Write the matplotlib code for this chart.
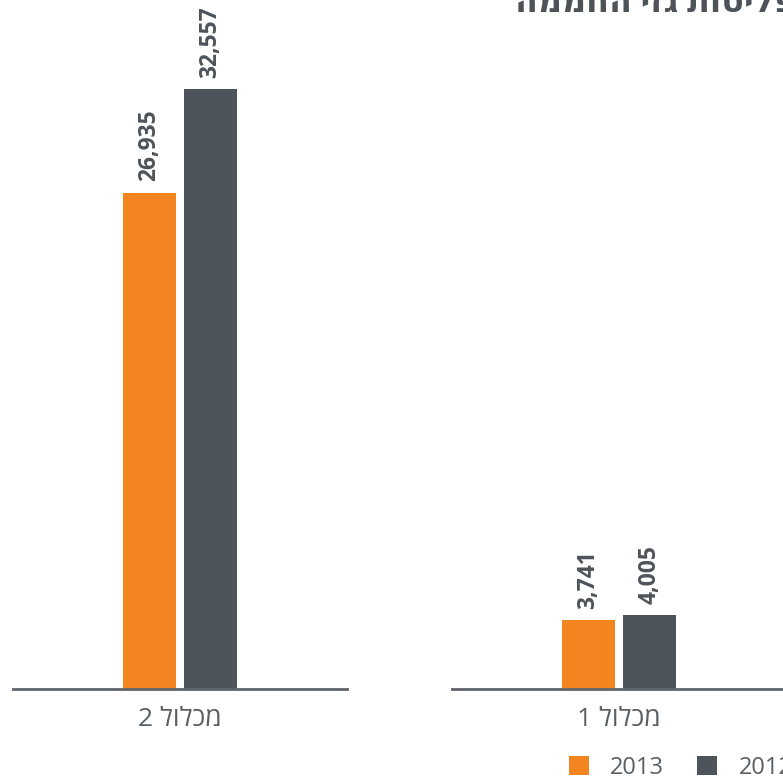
import matplotlib.pyplot as plt
import numpy as np

plt.rcParams['font.family'] = ['Open Sans', 'DejaVu Sans']

# Emissions by complex, per year
groups = ['מכלול 2', 'מכלול 1']
years = ['2013', '2012']
values_2013 = [26935, 3741]
values_2012 = [32557, 4005]
title = 'פליטות גזי החממה'

ORANGE = '#F28520'
GRAY = '#4D545B'
TEXT = '#4D5359'


def rtl(s):
    # matplotlib has no bidi support, so hand it the visual order
    return s[::-1]


fig = plt.figure(figsize=(7.83, 7.81), dpi=100)
W, H = 783, 781
ymax = 35000
top_px = 689 - 600 * ymax / 32557
panels = [(13, 347), (452, 786)]
bw = 53 / 334
off = 0.0913

bars = []
for i, (x0, x1) in enumerate(panels):
    ax = fig.add_axes([x0 / W, 1 - 689 / H, (x1 - x0) / W, (689 - top_px) / H])
    b1 = ax.bar([-off], [values_2013[i]], width=bw, color=ORANGE)
    b2 = ax.bar([off], [values_2012[i]], width=bw, color=GRAY)
    bars = [b1, b2]
    for x, v in [(-off, values_2013[i]), (off, values_2012[i])]:
        ax.annotate(f'{v:,}', (x, v), xytext=(0, 8), textcoords='offset points',
                    rotation=90, ha='center', va='bottom', fontsize=16.5,
                    fontweight='bold', color=TEXT)
    ax.set_xlim(-0.5, 0.5)
    ax.set_ylim(0, ymax)
    ax.set_yticks([])
    ax.set_xticks([0])
    ax.set_xticklabels([rtl(groups[i])], fontsize=19, color='#5A5F64')
    ax.tick_params(axis='x', length=0, pad=13)
    for s in ['top', 'left', 'right']:
        ax.spines[s].set_visible(False)
    ax.spines['bottom'].set_color('#5F656B')
    ax.spines['bottom'].set_linewidth(2)

fig.text(515 / W, 1 - 12 / H, rtl(title), ha='left', va='baseline',
         fontsize=24, fontweight='bold', color=TEXT)

fig.legend(bars, years, loc='lower left', bbox_to_anchor=(569 / W, 1 - 780 / H),
           ncol=2, frameon=False, fontsize=17, handlelength=0.85, handleheight=0.85,
           handletextpad=0.9, columnspacing=1.4, borderpad=0, borderaxespad=0,
           labelcolor='#5A5F64')

fig.savefig('out.png', dpi=100)
